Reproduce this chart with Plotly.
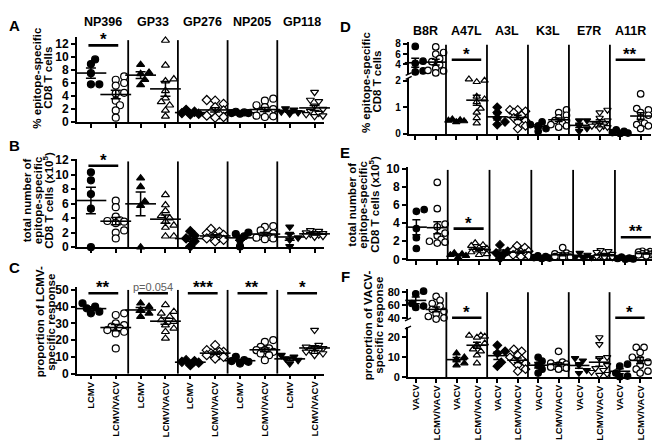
import numpy as np
import plotly.graph_objects as go

# ------------------------------------------------------------------ data
lcmv_epitopes = ["NP396", "GP33", "GP276", "NP205", "GP118"]
vacv_epitopes = ["B8R", "A47L", "A3L", "K3L", "E7R", "A11R"]
lcmv_groups = ["LCMV", "LCMV/VACV"]
vacv_groups = ["VACV", "LCMV/VACV"]

# A: % epitope-specific CD8 T cells (LCMV epitopes)
a_single = [[9.6, 8.9, 7.5, 5.8, 5.8], [8.8, 7.6, 7.4, 6.5, 5.7], [1.9, 1.6, 1.4, 1.3, 1.2],
            [1.6, 1.5, 1.4, 1.4, 1.3], [2.1, 1.9, 1.6, 1.5, 1.3]]
a_dual = [[7.0, 6.5, 6.0, 5.6, 4.5, 4.4, 3.3, 2.6, 1.8, 0.7],
          [12.5, 8.7, 6.6, 6.3, 4.8, 3.7, 3.1, 2.6, 1.8, 0.9],
          [3.4, 3.3, 2.8, 2.3, 1.8, 1.5, 1.2, 1.0, 0.8, 0.7],
          [3.6, 3.3, 2.6, 2.3, 2.0, 1.6, 1.3, 1.0, 0.9, 0.8],
          [4.6, 3.4, 3.2, 2.5, 2.0, 1.7, 1.4, 1.2, 1.0, 0.9]]
# B: total number (x10^5)
b_single = [[10.3, 9.2, 7.3, 5.3, 0.0], [9.5, 8.3, 6.3, 5.7, 0.0], [2.2, 1.6, 1.2, 0.8, 0.1],
            [2.0, 1.8, 1.5, 1.0, 0.1], [2.8, 1.8, 1.3, 1.0, 0.1]]
b_dual = [[6.4, 5.5, 4.2, 3.7, 3.6, 3.5, 3.3, 2.3, 2.0, 1.2],
          [7.2, 5.8, 5.0, 4.3, 4.0, 3.5, 3.0, 2.7, 1.5, 1.5],
          [2.5, 2.1, 1.9, 1.7, 1.5, 1.4, 1.3, 1.2, 1.0, 0.8],
          [2.9, 2.8, 2.3, 1.9, 1.6, 1.5, 1.4, 1.3, 1.2, 1.1],
          [2.3, 2.2, 2.0, 1.9, 1.9, 1.8, 1.7, 1.6, 1.5, 1.4]]
# C: proportion of LCMV-specific response
c_single = [[42, 40, 39, 37, 36], [42, 40, 38, 36, 34], [8, 7.5, 7, 6.5, 5],
            [10, 8, 7.5, 7, 6], [11, 10, 9, 8, 6]]
c_dual = [[36, 35, 30, 29, 28, 27, 26, 25, 24, 15],
          [41, 37, 36, 34, 32, 31, 29, 27, 25, 21],
          [17, 14, 13, 13, 12, 12, 11, 11, 10, 9],
          [20, 19, 16, 15, 14, 14, 13, 12, 11, 8],
          [26, 17, 16, 15, 15, 14, 14, 13, 12, 11]]
# D: % epitope-specific CD8 T cells (VACV epitopes)
d_single = [[7.5, 4.6, 4.2, 2.7, 2.5], [0.55, 0.52, 0.5, 0.48, 0.45], [1.0, 0.8, 0.6, 0.45, 0.35],
            [0.45, 0.35, 0.3, 0.2, 0.1], [0.5, 0.5, 0.3, 0.2, 0.1], [0.15, 0.1, 0.05, 0.03, 0.02]]
d_dual = [[7.4, 6.3, 6.0, 5.1, 4.5, 3.9, 3.2, 2.8, 2.7, 2.3],
          [2.05, 2.0, 1.95, 1.4, 1.3, 1.2, 0.95, 0.8, 0.6, 0.4],
          [0.9, 0.9, 0.85, 0.8, 0.7, 0.6, 0.5, 0.45, 0.3, 0.2],
          [0.9, 0.8, 0.7, 0.6, 0.5, 0.5, 0.4, 0.35, 0.3, 0.25],
          [0.9, 0.8, 0.6, 0.5, 0.4, 0.35, 0.3, 0.3, 0.25, 0.2],
          [1.5, 0.95, 0.9, 0.8, 0.7, 0.6, 0.4, 0.35, 0.3, 0.2]]
# E: total number (x10^5)
e_single = [[5.5, 5.3, 3.4, 2.4, 1.2], [0.7, 0.6, 0.5, 0.4, 0.2], [1.6, 0.9, 0.7, 0.6, 0.1],
            [0.4, 0.3, 0.2, 0.15, 0.1], [0.7, 0.5, 0.3, 0.2, 0.1], [0.25, 0.15, 0.1, 0.05, 0.02]]
e_dual = [[8.5, 5.6, 3.9, 3.6, 2.9, 2.6, 2.2, 2.0, 1.9, 1.8],
          [1.8, 1.6, 1.5, 1.3, 1.2, 1.0, 0.9, 0.8, 0.6, 0.5],
          [1.5, 1.3, 1.0, 0.9, 0.8, 0.7, 0.6, 0.5, 0.4, 0.3],
          [1.3, 0.7, 0.6, 0.5, 0.45, 0.4, 0.35, 0.3, 0.25, 0.2],
          [1.0, 0.9, 0.8, 0.6, 0.5, 0.4, 0.3, 0.3, 0.2, 0.2],
          [0.9, 0.85, 0.8, 0.75, 0.7, 0.6, 0.55, 0.5, 0.45, 0.4]]
# F: proportion of VACV-specific response
f_single = [[81, 77, 62, 58, 56], [12, 10, 9, 7, 6], [16, 13, 12, 7.5, 5.5],
            [10, 8, 6, 4, 2], [9.5, 8.3, 6, 3.5, 2], [6.5, 5.5, 2, 0.5, 0.2]]
f_dual = [[73, 67, 62, 58, 53, 50, 46, 42, 40, 38],
          [21, 21, 20.5, 20, 17, 16, 14, 13, 11, 7],
          [14, 13, 11, 10, 9, 8, 7, 6, 4, 3],
          [13, 7.5, 7, 6.5, 6, 5.5, 5, 5, 4.5, 4],
          [20, 16.5, 10, 9.5, 6, 4.5, 3.5, 2.5, 1.5, 1],
          [15, 15, 12.5, 10, 9, 7.5, 6, 4, 3, 2]]

sig_a = [(0, "*")]
sig_b = [(0, "*")]
sig_c = [(0, "**"), (1, "p=0.054"), (2, "***"), (3, "**"), (4, "*")]
sig_d = [(1, "*"), (5, "**")]
sig_e = [(1, "*"), (5, "**")]
sig_f = [(1, "*"), (5, "*")]

# ------------------------------------------------------------------ layout helpers
W, H = 660, 440
FONT = "Liberation Sans, Arial, Helvetica, sans-serif"


def fx(px):
    return px / W


def fy(py):
    return 1 - py / H


lcmv_symbols = ["circle", "triangle-up", "diamond", "circle", "triangle-down"]
vacv_symbols = ["circle", "triangle-up", "diamond", "circle", "triangle-down", "circle"]

panels = [
    dict(letter="A", letter_pos=(6, 13), x="x", xdom=(69, 316), xr=(-0.56, 9.38),
         ys=[("y", (112.3, 24.9), (0, 13), [0, 2, 4, 6, 8, 10, 12])],
         eps=lcmv_epitopes, groups=lcmv_groups, syms=lcmv_symbols, single=a_single, dual=a_dual,
         labels=False, headers_y=9, mw=22, cap=5, ms=7, tfs=12,
         sig=sig_a, sig_y=[(11.75, "y")], hw=0.6,
         title=["% epitope-specific", "CD8 T cells"], title_x=[29.5, 40.5], title_y=67),
    dict(letter="B", letter_pos=(6, 136), x="x2", xdom=(69, 316), xr=(-0.56, 9.38),
         ys=[("y2", (240.7, 149.6), (0, 12.2), [0, 2, 4, 6, 8, 10, 12])],
         eps=lcmv_epitopes, groups=lcmv_groups, syms=lcmv_symbols, single=b_single, dual=b_dual,
         labels=False, headers_y=None, mw=22, cap=5, ms=7, tfs=12,
         sig=sig_b, sig_y=[(11.2, "y2")], hw=0.6,
         title=["total number of", "epitope-specific", "CD8 T cells (x10<sup>5</sup>)"],
         title_x=[18.5, 29.5, 40], title_y=193),
    dict(letter="C", letter_pos=(6, 262), x="x3", xdom=(69, 316), xr=(-0.56, 9.38),
         ys=[("y3", (370.7, 281.7), (0, 51.7), [0, 10, 20, 30, 40, 50])],
         eps=lcmv_epitopes, groups=lcmv_groups, syms=lcmv_symbols, single=c_single, dual=c_dual,
         labels=True, headers_y=None, mw=22, cap=5, ms=7, tfs=12,
         sig=sig_c, sig_y=[(48, "y3")] * 5, hw=0.6,
         title=["proportion of LCMV-", "specific response"], title_x=[32, 43.5], title_y=318),
    dict(letter="D", letter_pos=(337, 14), x="x4", xdom=(400.7, 643.3), xr=(-0.32, 11.52),
         ys=[("y4", (124.3, 66.7), (0, 2.1), [0, 1, 2]),
             ("y7", (62.7, 29.6), (2.1, 8.4), [4, 6, 8])],
         eps=vacv_epitopes, groups=vacv_groups, syms=vacv_symbols, single=d_single, dual=d_dual,
         labels=False, headers_y=18.5, mw=15, cap=4, ms=6.5, tfs=10,
         sig=sig_d, sig_y=[(4.9, "y7"), (4.9, "y7")], hw=0.72,
         title=["% epitope-specific", "CD8 T cells"], title_x=[358, 369.5], title_y=71),
    dict(letter="E", letter_pos=(337, 143), x="x5", xdom=(400, 650), xr=(-0.40, 11.56),
         ys=[("y5", (253.3, 158.3), (0, 10.2), [0, 2, 4, 6, 8, 10])],
         eps=vacv_epitopes, groups=vacv_groups, syms=vacv_symbols, single=e_single, dual=e_dual,
         labels=False, headers_y=None, mw=15, cap=4, ms=6.5, tfs=12,
         sig=sig_e, sig_y=[(3.4, "y5"), (2.45, "y5")], hw=0.72,
         title=["total number of", "epitope-specific", "CD8 T cells (x10<sup>5</sup>)"],
         title_x=[344, 355, 366], title_y=197),
    dict(letter="F", letter_pos=(337, 271), x="x6", xdom=(400, 645), xr=(-0.38, 11.63),
         ys=[("y6", (374.3, 323.3), (0, 25), [0, 10, 20]),
             ("y8", (315, 284), (37.5, 84), [40, 60, 80])],
         eps=vacv_epitopes, groups=vacv_groups, syms=vacv_symbols, single=f_single, dual=f_dual,
         labels=True, headers_y=None, mw=15, cap=4, ms=6.5, tfs=11,
         sig=sig_f, sig_y=[(40, "y8"), (40, "y8")], hw=0.72,
         title=["proportion of VACV-", "specific response"], title_x=[360, 371.5], title_y=321),
]


def swarm(yp, cw, d):
    """Horizontal offsets (category units) so that markers do not overlap."""
    n = len(yp)
    order = np.argsort(yp)
    placed = []
    offs = np.zeros(n)
    step = d * 0.6
    maxc = max(1, int((0.40 * cw) // step))
    cands = [0]
    for k in range(1, maxc + 1):
        cands += [k, -k]
    for i in order:
        chosen, bestd, best = None, -1.0, 0
        for c in cands:
            x = c * step
            md = min([np.hypot(x - px, yp[i] - py) for px, py in placed], default=1e9)
            if md >= d * 0.8:
                chosen = c
                break
            if md > bestd:
                bestd, best = md, c
        if chosen is None:
            chosen = best
        placed.append((chosen * step, yp[i]))
        offs[i] = chosen * step / cw
    return offs


fig = go.Figure()
layout = dict(width=W, height=H, margin=dict(l=0, r=0, t=0, b=0),
              paper_bgcolor="white", plot_bgcolor="white", showlegend=False,
              font=dict(family=FONT, color="black"))
shapes, annos = [], []

for P in panels:
    xname = P["x"]
    xkey = "xaxis" + xname[1:]
    ncat = 2 * len(P["eps"])
    cw = (P["xdom"][1] - P["xdom"][0]) / (P["xr"][1] - P["xr"][0])
    main_y = P["ys"][0][0]
    layout[xkey] = dict(domain=[fx(P["xdom"][0]), fx(P["xdom"][1])], range=list(P["xr"]),
                        anchor=main_y, showline=True, linewidth=1.8, linecolor="black",
                        ticks="outside", ticklen=4, tickwidth=1.5, tickcolor="black",
                        tickmode="array", tickvals=list(range(ncat)),
                        showticklabels=False,
                        showgrid=False, zeroline=False, fixedrange=True)
    yinfo = []
    for yname, (pb, pt), rng, tv in P["ys"]:
        ykey = "yaxis" + yname[1:]
        layout[ykey] = dict(domain=[fy(pb), fy(pt)], range=list(rng), anchor=xname,
                            showline=True, linewidth=1.8, linecolor="black",
                            ticks="outside", ticklen=4, tickwidth=1.5, tickcolor="black",
                            tickmode="array", tickvals=tv,
                            tickfont=dict(family=FONT, size=P["tfs"], weight="bold",
                                          color="black"),
                            showgrid=False, zeroline=False, fixedrange=True)
        yinfo.append((yname, rng, (pb - pt) / (rng[1] - rng[0])))

    # broken-axis marks
    if len(P["ys"]) == 2:
        ax_x = P["xdom"][0]
        for ypx in (P["ys"][0][1][1], P["ys"][1][1][0]):
            shapes.append(dict(type="line", xref="paper", yref="paper",
                               x0=fx(ax_x - 3), x1=fx(ax_x + 3), y0=fy(ypx + 1.5),
                               y1=fy(ypx - 1.5), line=dict(color="black", width=1.4)))

    # rotated category labels under the bottom panels
    if P["labels"]:
        ybase = P["ys"][0][1][0]
        for i in range(ncat):
            annos.append(dict(x=i, y=fy(ybase + 5.5), xref=xname, yref="paper",
                              text=P["groups"][i % 2], showarrow=False, textangle=-90,
                              xanchor="center", yanchor="top",
                              font=dict(family=FONT, size=9.5, weight="bold", color="black")))

    def axis_for(v):
        if len(yinfo) == 1 or v <= yinfo[0][1][1]:
            return yinfo[0]
        return yinfo[1]

    # group separators
    ybot = P["ys"][0][1][0]
    ytop = min(p[1][1] for p in P["ys"]) + 3
    for g in range(1, len(P["eps"])):
        shapes.append(dict(type="line", xref=xname, yref="paper", x0=2 * g - 0.5, x1=2 * g - 0.5,
                           y0=fy(ybot), y1=fy(ytop), line=dict(color="black", width=1.8)))

    # points and mean +/- SEM
    for g in range(len(P["eps"])):
        for k, (vals, filled) in enumerate([(P["single"][g], True), (P["dual"][g], False)]):
            cat = 2 * g + k
            v = np.asarray(vals, dtype=float)
            axes = [axis_for(val) for val in v]
            yp = np.array([ax[2] * (val - ax[1][0]) + (0 if ax is yinfo[0] else 1000)
                           for val, ax in zip(v, axes)])
            offs = swarm(yp, cw, P["ms"])
            for ax in yinfo:
                sel = [i for i in range(len(v)) if axes[i] is ax]
                if not sel:
                    continue
                fig.add_trace(go.Scatter(
                    x=cat + offs[sel], y=v[sel], xaxis=xname, yaxis=ax[0], mode="markers",
                    cliponaxis=False,
                    marker=dict(symbol=P["syms"][g], size=P["ms"],
                                color="black" if filled else "white",
                                line=dict(color="black", width=1.2))))
            m = v.mean()
            sem = v.std(ddof=1) / np.sqrt(len(v))
            ax = axis_for(m)
            fig.add_trace(go.Scatter(
                x=[cat], y=[m], xaxis=xname, yaxis=ax[0], mode="markers", cliponaxis=False,
                marker=dict(symbol="line-ew", size=P["mw"], line=dict(color="black", width=1.6)),
                error_y=dict(type="data", array=[sem], color="black", thickness=1.5,
                             width=P["cap"])))

    # significance bars
    for (g, lab), (yv, yname) in zip(P["sig"], P["sig_y"]):
        c = 2 * g + 0.5
        shapes.append(dict(type="line", xref=xname, yref=yname, x0=c - P["hw"], x1=c + P["hw"],
                           y0=yv, y1=yv, line=dict(color="black", width=2.6)))
        if lab.startswith("p="):
            annos.append(dict(x=c, y=yv, xref=xname, yref=yname, text=lab, showarrow=False,
                              yanchor="bottom", yshift=-2,
                              font=dict(family=FONT, size=11, color="#606060")))
        else:
            annos.append(dict(x=c, y=yv, xref=xname, yref=yname, text=lab, showarrow=False,
                              yanchor="bottom", yshift=-6,
                              font=dict(family=FONT, size=17, weight="bold", color="black")))

    # column headers
    if P["headers_y"] is not None:
        for g, ep in enumerate(P["eps"]):
            annos.append(dict(x=2 * g + 0.5, y=fy(P["headers_y"]), xref=xname, yref="paper",
                              text=ep, showarrow=False, xanchor="center", yanchor="middle",
                              font=dict(family=FONT, size=12.5, weight="bold", color="black")))

    # panel letter
    annos.append(dict(x=fx(P["letter_pos"][0]), y=fy(P["letter_pos"][1]), xref="paper",
                      yref="paper", text=P["letter"], showarrow=False, xanchor="center",
                      yanchor="middle", font=dict(family=FONT, size=15, weight="bold")))

    # y-axis title (one annotation per line)
    for line, tx in zip(P["title"], P["title_x"]):
        annos.append(dict(x=fx(tx), y=fy(P["title_y"]), xref="paper", yref="paper", text=line,
                          showarrow=False, textangle=-90, xanchor="center", yanchor="middle",
                          font=dict(family=FONT, size=11.5, weight="bold", color="black")))

layout["shapes"] = shapes
layout["annotations"] = annos
fig.update_layout(**layout)
fig.write_html("out.html")
